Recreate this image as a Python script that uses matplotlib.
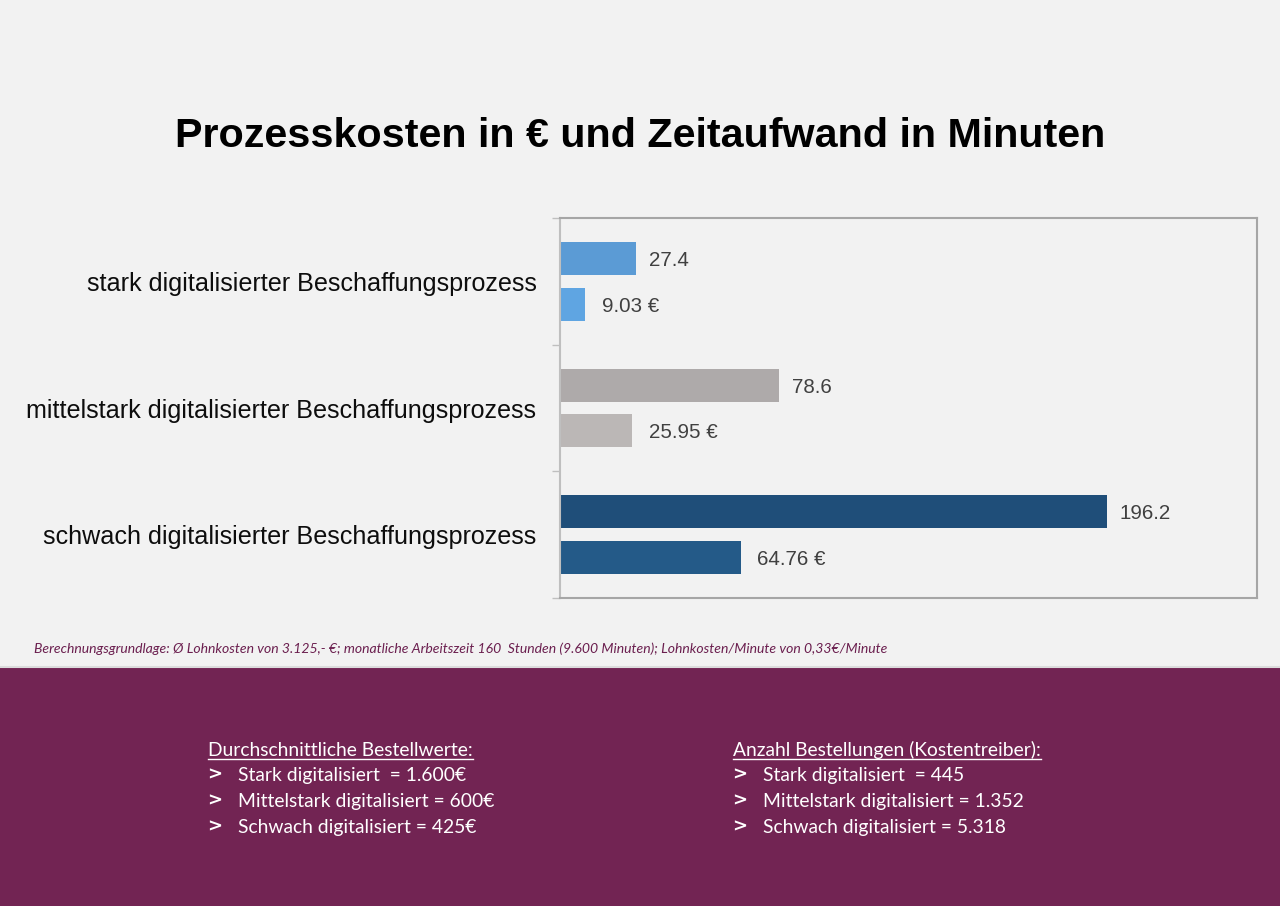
import matplotlib.pyplot as plt
from matplotlib.lines import Line2D
from matplotlib.patches import Rectangle

# Data
categories = [
    "stark digitalisierter Beschaffungsprozess",
    "mittelstark digitalisierter Beschaffungsprozess",
    "schwach digitalisierter Beschaffungsprozess",
]
zeit_minuten = [27.4, 78.6, 196.2]
kosten_euro = [9.03, 25.95, 64.76]
zeit_labels = ["27.4", "78.6", "196.2"]
kosten_labels = ["9.03 €", "25.95 €", "64.76 €"]

bestellwerte = ["Stark digitalisiert  = 1.600€",
                "Mittelstark digitalisiert = 600€",
                "Schwach digitalisiert = 425€"]
anzahl = ["Stark digitalisiert  = 445",
          "Mittelstark digitalisiert = 1.352",
          "Schwach digitalisiert = 5.318"]

zeit_colors = ["#5b9bd5", "#aeaaaa", "#1f4e79"]
kosten_colors = ["#5fa5e2", "#bbb7b6", "#245a88"]

W, H = 1280, 906
BG = "#f2f2f2"
PURPLE = "#722453"


def fx(x):
    return x / W


def fy(y):
    return 1 - y / H


fig = plt.figure(figsize=(12.8, 9.06), dpi=100, facecolor=BG)

# Purple band at the bottom
fig.patches.append(Rectangle((0, 0), 1, fy(668), transform=fig.transFigure,
                             facecolor=PURPLE, edgecolor="none", zorder=0))
fig.add_artist(Line2D([0, 1], [fy(667), fy(667)], color="#dcdcdc", lw=1.5))

# Title
fig.text(0.5, fy(136), "Prozesskosten in € und Zeitaufwand in Minuten",
         ha="center", va="center", fontsize=29.7, fontweight="bold",
         family="Liberation Sans", color="#000000")

# Chart
ax = fig.add_axes([fx(560), fy(598), fx(697), 380 / H])
ax.set_facecolor(BG)
pos = range(len(categories))
off, h = 0.18, 0.26
ax.barh([p - off for p in pos], zeit_minuten, height=h, color=zeit_colors)
ax.barh([p + off for p in pos], kosten_euro, height=h, color=kosten_colors)

for p, v, lab in zip(pos, zeit_minuten, zeit_labels):
    ax.annotate(lab, (v, p - off), xytext=(9, 0), textcoords="offset points",
                va="center_baseline", ha="left", fontsize=14.8, color="#404040",
                family="Liberation Sans")
for p, v, lab in zip(pos, kosten_euro, kosten_labels):
    ax.annotate(lab, (v, p + off), xytext=(12, 0), textcoords="offset points",
                va="center_baseline", ha="left", fontsize=14.8, color="#404040",
                family="Liberation Sans")

ax.set_xlim(0, 250)
ax.set_ylim(2.5, -0.5)
ax.set_xticks([])
ax.set_yticks(list(pos))
ax.set_yticklabels(categories, fontsize=18.1, family="Liberation Sans",
                   color="#0d0d0d")
ax.tick_params(axis="y", which="major", length=0, pad=17)
ax.set_yticks([-0.5, 0.5, 1.5, 2.5], minor=True)
ax.tick_params(axis="y", which="minor", length=6, color="#bfbfbf", width=1)
for s in ax.spines.values():
    s.set_color("#a6a6a6")
    s.set_linewidth(1.5)
ax.spines["left"].set_color("#bfbfbf")

# Footnote
fig.text(fx(34), fy(649),
         "Berechnungsgrundlage: Ø Lohnkosten von 3.125,- €; monatliche Arbeitszeit 160  Stunden (9.600 Minuten); Lohnkosten/Minute von 0,33€/Minute",
         ha="left", va="center", fontsize=10.1, style="italic",
         family="Lato", color="#6b1f4f")

# Bottom text blocks
heads = []
for x0, head, rows in [(208, "Durchschnittliche Bestellwerte:", bestellwerte),
                       (733, "Anzahl Bestellungen (Kostentreiber):", anzahl)]:
    t = fig.text(fx(x0), fy(750), head, ha="left", va="center", fontsize=13.9,
                 family="Lato", color="white")
    heads.append(t)
    for i, r in enumerate(rows):
        y = 776 + i * 25.7
        fig.text(fx(x0 - 1), fy(y - 1), ">", ha="left", va="center",
                 fontsize=13, fontweight="bold", family="DejaVu Sans",
                 color="white")
        fig.text(fx(x0 + 30), fy(y), r, ha="left", va="center", fontsize=13.9,
                 family="Lato", color="white")

# Underline the headings
fig.canvas.draw()
r = fig.canvas.get_renderer()
for t in heads:
    bb = t.get_window_extent(renderer=r)
    yline = fy(759)
    fig.add_artist(Line2D([bb.x0 / W, bb.x1 / W], [yline, yline],
                          color="white", lw=1))

fig.savefig("out.png", dpi=100, facecolor=BG)
